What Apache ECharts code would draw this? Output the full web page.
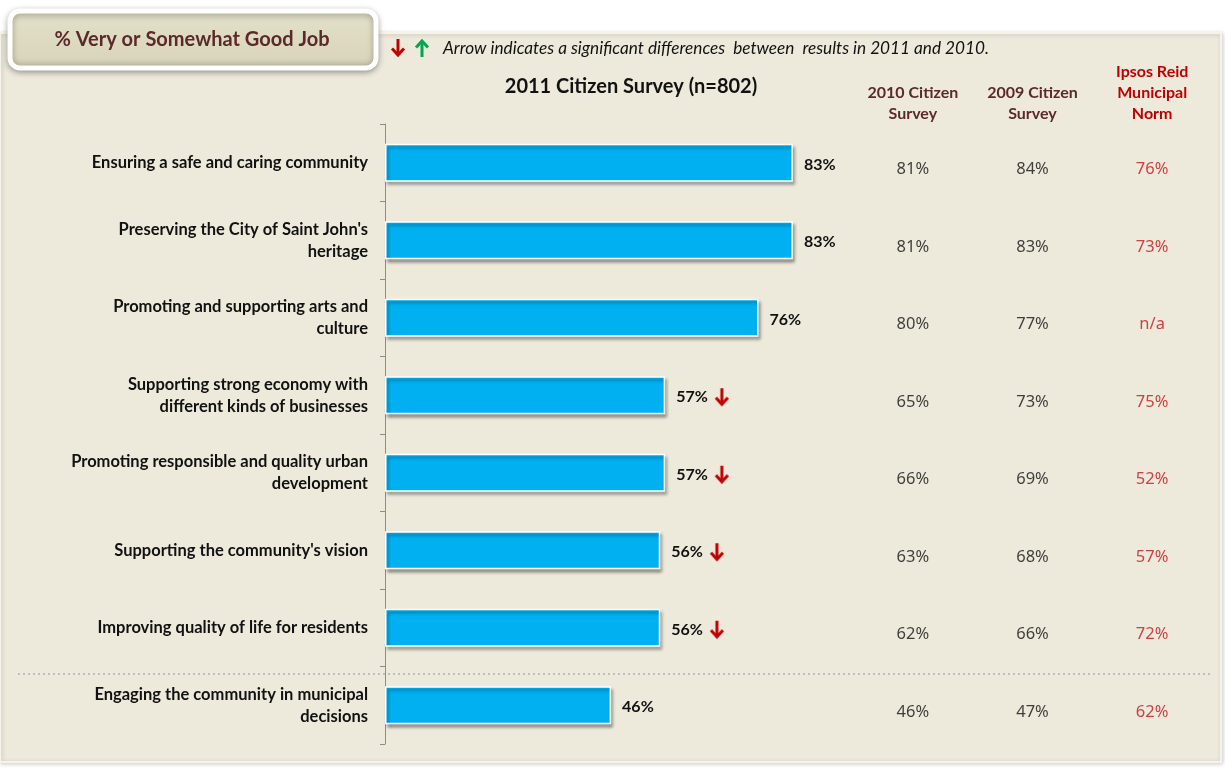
<!DOCTYPE html>
<html>
<head>
<meta charset="utf-8">
<script src="https://cdn.jsdelivr.net/npm/echarts@6/dist/echarts.min.js"></script>
<style>
  html, body { margin: 0; padding: 0; background: #ffffff; }
  #chart { width: 1225px; height: 769px; }
</style>
</head>
<body>
<div id="chart"></div>
<script>
// Performance areas (line breaks as they wrap on the slide)
const categories = [
  'Ensuring a safe and caring community',
  "Preserving the City of Saint John's\nheritage",
  'Promoting and supporting arts and\nculture',
  'Supporting strong economy with\ndifferent kinds of businesses',
  'Promoting responsible and quality urban\ndevelopment',
  "Supporting the community's vision",
  'Improving quality of life for residents',
  'Engaging the community in municipal\ndecisions'
];

// % Very or Somewhat Good Job
const survey2011 = [83, 83, 76, 57, 57, 56, 56, 46];
// significant change vs 2010: 'down', 'up' or ''
const change2011 = ['', '', '', 'down', 'down', 'down', 'down', ''];
const survey2010 = [81, 81, 80, 65, 66, 63, 62, 46];
const survey2009 = [84, 83, 77, 73, 69, 68, 66, 47];
const municipalNorm = [76, 73, null, 75, 52, 57, 72, 62];

const columnHeaders = ['2010 Citizen\nSurvey', '2009 Citizen\nSurvey', 'Ipsos Reid\nMunicipal\nNorm'];
const columnKeys = ['c2010', 'c2009', 'norm'];

const FONT = 'Lato, "Open Sans", sans-serif';
const VALUE_FONT = '"Noto Sans", Lato, sans-serif';
const RED = '#C00000';
const GREEN = '#00A651';
const BROWN = '#5A2A2A';

const pct = v => (v == null ? 'n/a' : v + '%');

// thick arrow glyph drawn once on a small canvas, used inside rich text
function arrowImage(color, up) {
  const c = document.createElement('canvas');
  c.width = 16; c.height = 20;
  const g = c.getContext('2d');
  if (up) { g.translate(0, 20); g.scale(1, -1); }
  g.strokeStyle = color;
  g.lineWidth = 3;
  g.lineJoin = 'miter';
  g.beginPath();
  g.moveTo(8, 1); g.lineTo(8, 17);
  g.stroke();
  g.beginPath();
  g.moveTo(2, 10.5); g.lineTo(8, 17); g.lineTo(14, 10.5);
  g.stroke();
  return c.toDataURL();
}
const downImg = arrowImage(RED, false);
const upImg = arrowImage(GREEN, true);
const arrowRich = img => ({ width: 16, height: 20, backgroundColor: { image: img } });

function columnSeries(values, col, color) {
  return {
    type: 'scatter',
    xAxisIndex: 1,
    yAxisIndex: 1,
    symbolSize: 1,
    itemStyle: { color: 'rgba(0,0,0,0)' },
    silent: true,
    data: values.map((v, i) => [columnKeys[col], i]),
    label: {
      show: true,
      position: 'inside',
      offset: [0, 7],
      formatter: p => pct(values[p.dataIndex]),
      fontFamily: VALUE_FONT,
      fontSize: 16.5,
      color: color
    }
  };
}

const chart = echarts.init(document.getElementById('chart'), null, { renderer: 'canvas' });

chart.setOption({
  backgroundColor: '#ffffff',
  animation: false,
  graphic: [
    // beige panel
    {
      type: 'rect', z: -10,
      shape: { x: 0, y: 33, width: 1221, height: 729 },
      style: { fill: '#EDEADC', stroke: '#F5F3EA', lineWidth: 2,
               shadowBlur: 4, shadowColor: 'rgba(0,0,0,0.18)', shadowOffsetX: 1, shadowOffsetY: 1 }
    },
    // heading box
    {
      type: 'rect', z: 5,
      shape: { x: 10, y: 11, width: 366, height: 57, r: 10 },
      style: {
        fill: new echarts.graphic.LinearGradient(0, 0, 0, 1, [
          { offset: 0, color: '#E4E1CB' },
          { offset: 0.8, color: '#DAD6BC' },
          { offset: 1, color: '#BDB89B' }
        ]),
        stroke: '#ffffff', lineWidth: 5,
        shadowBlur: 6, shadowColor: 'rgba(0,0,0,0.3)', shadowOffsetY: 2
      }
    },
    {
      type: 'text', z: 6,
      x: 192, y: 40,
      style: {
        text: '% Very or Somewhat Good Job',
        fontFamily: FONT, fontSize: 20, fontWeight: 'bold',
        fill: BROWN, align: 'center', verticalAlign: 'middle'
      }
    },
    // arrow key: red arrow, room for the green one, then the note
    {
      type: 'text', z: 6,
      x: 390, y: 48,
      style: {
        text: '{d|}{u|}{t|Arrow indicates a significant differences  between  results in 2011 and 2010.}',
        verticalAlign: 'middle',
        rich: {
          d: arrowRich(downImg),
          u: { width: 24, height: 20 },
          t: { fontFamily: FONT, fontStyle: 'italic', fontSize: 17.2, fill: '#111111', padding: [0, 0, 0, 13] }
        }
      }
    },
    {
      type: 'image', z: 6,
      x: 414, y: 38,
      style: { image: upImg, width: 16, height: 20 }
    },
    // chart title
    {
      type: 'text', z: 6,
      x: 631, y: 87,
      style: {
        text: '2011 Citizen Survey (n=802)',
        fontFamily: FONT, fontSize: 20, fontWeight: 'bold',
        fill: '#111111', align: 'center', verticalAlign: 'middle'
      }
    },
    // separator before the last item
    {
      type: 'line', z: 1,
      shape: { x1: 18, y1: 674, x2: 1210, y2: 674 },
      style: { stroke: '#BEBEBE', lineWidth: 2, lineDash: [2, 3] }
    }
  ],
  grid: [
    { left: 385, top: 124, width: 491.5, height: 620 },
    { left: 853, top: 124, width: 359, height: 620 }
  ],
  xAxis: [
    { type: 'value', gridIndex: 0, min: 0, max: 100, show: false },
    {
      type: 'category', gridIndex: 1, position: 'top',
      data: columnKeys,
      axisLine: { show: false }, axisTick: { show: false }, splitLine: { show: false },
      axisLabel: {
        margin: 0,
        formatter: (v, i) => columnHeaders[i],
        fontFamily: FONT, fontSize: 16, fontWeight: 'bold', lineHeight: 21,
        color: (v, i) => (v === 'norm' ? RED : BROWN)
      }
    }
  ],
  yAxis: [
    {
      type: 'category', gridIndex: 0, inverse: true,
      data: categories,
      axisLine: { show: true, lineStyle: { color: '#8C8C8C', width: 1 } },
      axisTick: { show: true, length: 5, lineStyle: { color: '#8C8C8C' } },
      splitLine: { show: false },
      axisLabel: {
        margin: 17,
        align: 'right',
        fontFamily: FONT, fontSize: 16.5, fontWeight: 'bold',
        lineHeight: 22, color: '#111111'
      }
    },
    {
      type: 'category', gridIndex: 1, inverse: true, show: false,
      data: categories.map((c, i) => i)
    }
  ],
  series: [
    {
      type: 'bar',
      xAxisIndex: 0, yAxisIndex: 0,
      data: survey2011,
      barWidth: 38,
      itemStyle: {
        color: '#00B0F0',
        borderColor: '#ffffff', borderWidth: 1.5,
        shadowColor: 'rgba(0,0,0,0.35)', shadowBlur: 3, shadowOffsetX: 2, shadowOffsetY: 3
      },
      label: {
        show: true,
        position: 'right',
        distance: 11,
        offset: [0, 2],
        formatter: p => {
          const c = change2011[p.dataIndex];
          const arrow = c === 'down' ? '{dn|}' : c === 'up' ? '{up|}' : '';
          return '{v|' + p.value + '%}' + arrow;
        },
        rich: {
          v: { fontFamily: FONT, fontSize: 16, fontWeight: 'bold', color: '#111111', padding: [0, 6, 0, 0] },
          dn: arrowRich(downImg),
          up: arrowRich(upImg)
        }
      }
    },
    columnSeries(survey2010, 0, '#111111'),
    columnSeries(survey2009, 1, '#111111'),
    columnSeries(municipalNorm, 2, '#C8141B')
  ]
});
</script>
</body>
</html>
